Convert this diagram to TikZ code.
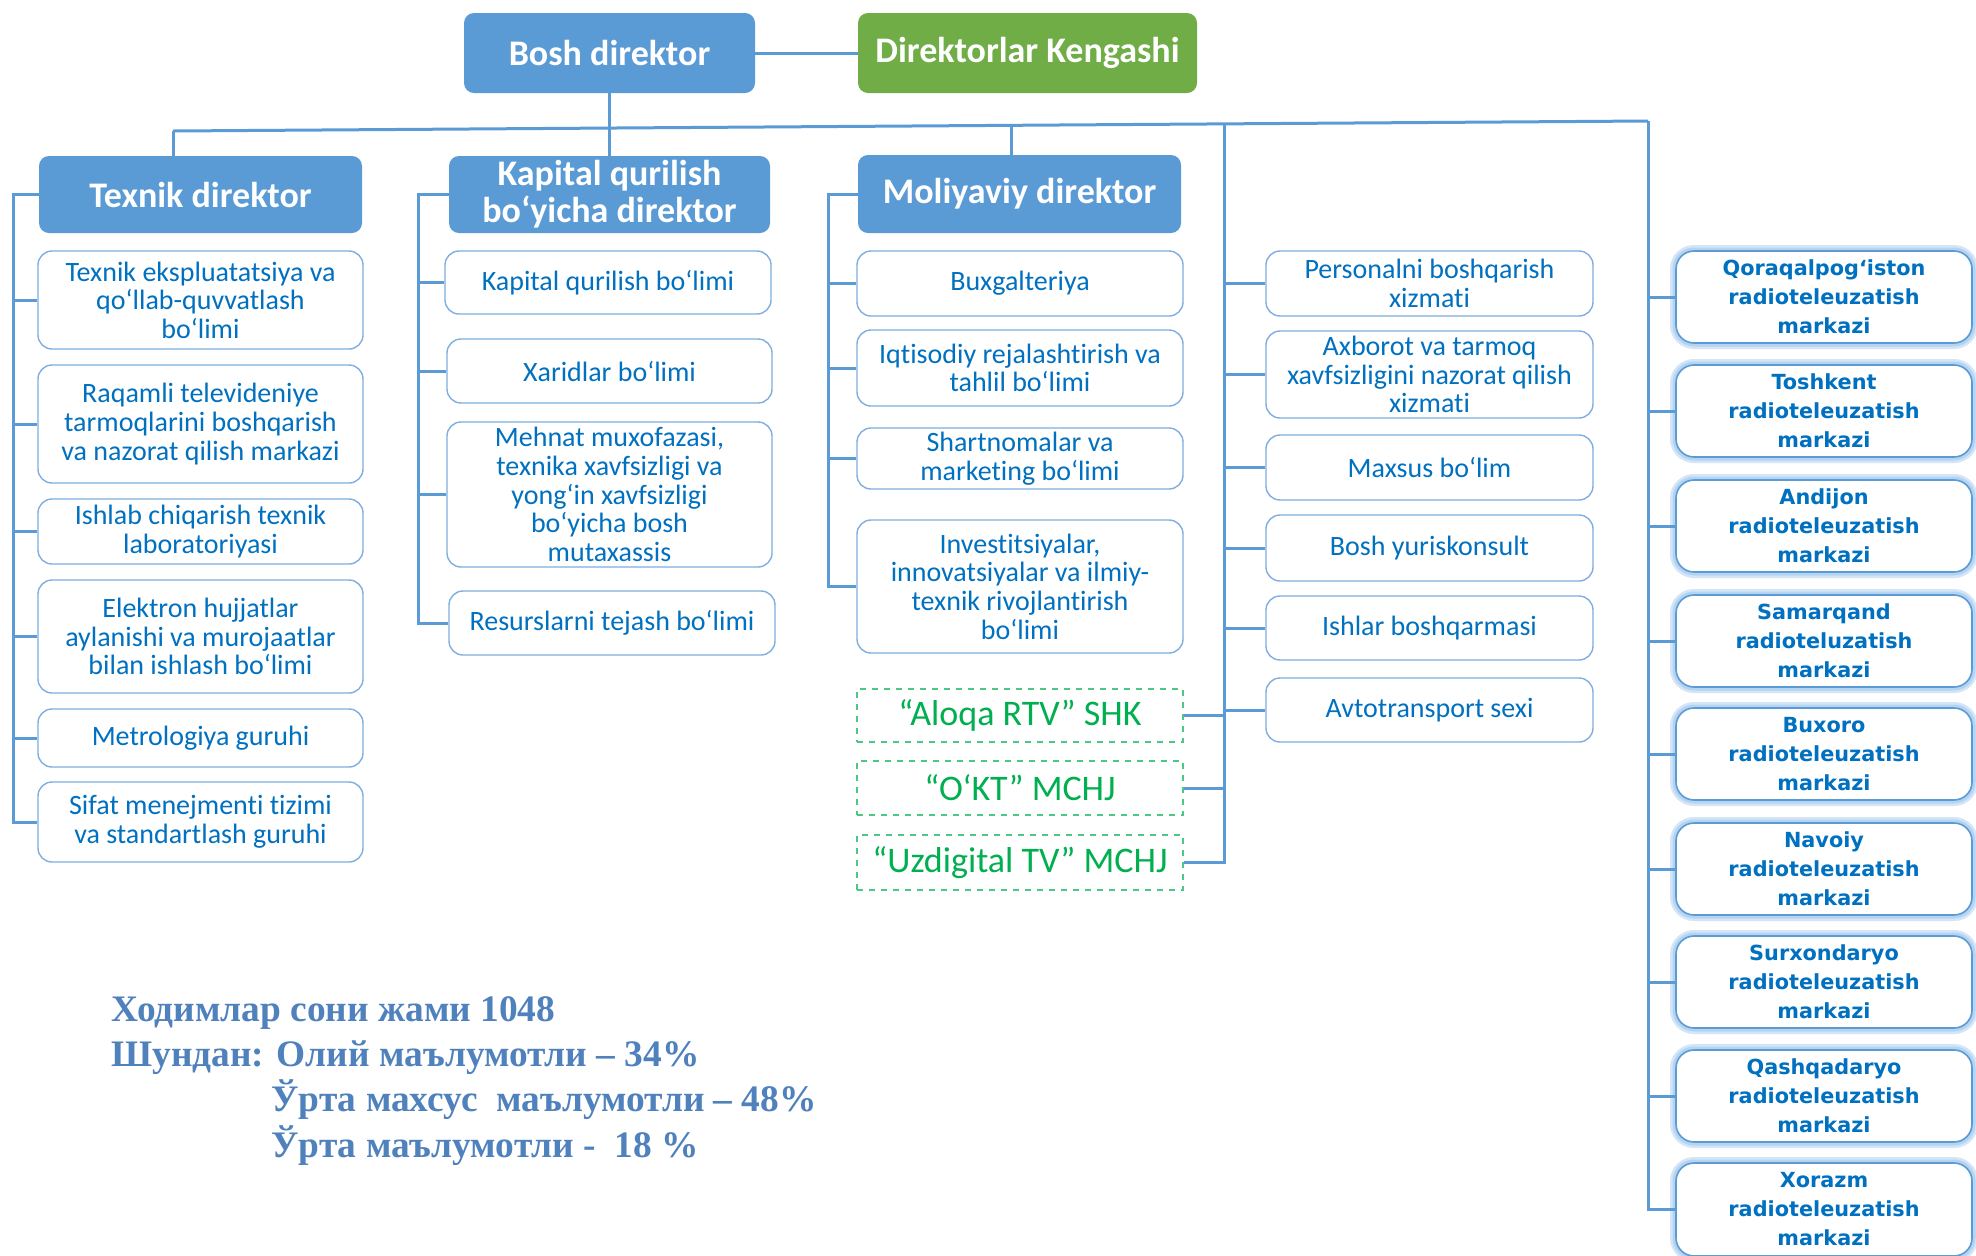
\documentclass[tikz,border=0pt]{standalone}
\usepackage{fontspec}
\setmainfont{Carlito}[Ligatures={NoCommon,NoContextual}]
\newfontfamily\vfont{DejaVu Sans}
\newfontfamily\tfont{Liberation Serif}
\usetikzlibrary{calc}
\definecolor{dirblue}{HTML}{5B9BD5}
\definecolor{dirgreen}{HTML}{70AD47}
\definecolor{txtblue}{HTML}{0070C0}
\definecolor{linecol}{HTML}{5B9BD5}
\definecolor{boxline}{HTML}{7FAEE0}
\definecolor{subgreen}{HTML}{00B050}
\definecolor{cyrblue}{HTML}{4F81BD}
\definecolor{glowcol}{HTML}{A9CDF0}
\newcommand\bx[7]{\node[#1, minimum width={(#5-#3)*0.5pt}, minimum height={(#6-#4)*0.5pt}] (#2) at ({(#3+#5)/2},{(#4+#6)/2}) {#7};}
\begin{document}
\begin{tikzpicture}[x=0.5pt,y=-0.5pt,
  dirbox/.style={fill=dirblue, rounded corners=5pt, inner sep=0pt, text=white,
    font=\fontsize{18}{18.5}\selectfont\bfseries, align=center},
  kengbox/.style={dirbox, fill=dirgreen},
  unitbox/.style={draw=boxline, line width=0.7pt, rounded corners=7pt, inner sep=0pt,
    text=txtblue, font=\fontsize{14}{14.3}\selectfont, align=center},
  subbox/.style={draw=subgreen!70, dashed, line width=0.6pt, inner sep=0pt,
    text=subgreen, font=\fontsize{18}{18}\selectfont, align=center},
  regbox/.style={draw=dirblue, line width=0.8pt, rounded corners=9pt, inner sep=0pt,
    fill=white, text=txtblue, font=\vfont\bfseries\fontsize{10.4}{14.5}\selectfont, align=center,
    preaction={draw=glowcol, line width=6pt, opacity=0.5},
    preaction={draw=glowcol, line width=3.5pt, opacity=0.7}},
  conn/.style={draw=linecol, line width=1.5pt},
  cyr/.style={text=cyrblue, font=\tfont\bfseries\fontsize{18.7}{22.5}\selectfont, anchor=base west, inner sep=0pt}
]
\useasboundingbox (0,0) rectangle (1976,1255);
\fill[white] (0,0) rectangle (1976,1255);

% top level
\bx{dirbox}{bosh}{464}{13}{755}{93}{Bosh direktor}
\bx{kengbox}{keng}{858}{13}{1197}{93}{Direktorlar Kengashi}
\draw[conn] (bosh.east) -- (keng.west);

% directors
\bx{dirbox}{texnik}{39}{156}{362}{233}{Texnik direktor}
\bx{dirbox}{kapital}{449}{156}{770}{233}{Kapital qurilish\\bo‘yicha direktor}
\bx{dirbox}{moliya}{858}{155}{1181}{233}{Moliyaviy direktor}

% bus
\coordinate (busL) at (173,131);
\coordinate (busR) at (1648,121);
\draw[conn] (busL) -- (busR);
\coordinate (busM) at ($(busL)!{(1012-173)/1475}!(busR)$);
\coordinate (busC) at ($(busL)!{(1224-173)/1475}!(busR)$);
\draw[conn] (bosh.south) -- (kapital.north);
\draw[conn] (busL) -- (busL |- texnik.north);
\draw[conn] (busM) -- (busM |- moliya.north);

% Texnik children
\bx{unitbox}{t1}{38}{251}{363}{349}{Texnik ekspluatatsiya va\\qo‘llab-quvvatlash\\bo‘limi}
\bx{unitbox}{t2}{38}{365}{363}{483}{Raqamli televideniye\\tarmoqlarini boshqarish\\va nazorat qilish markazi}
\bx{unitbox}{t3}{38}{499}{363}{564}{Ishlab chiqarish texnik\\laboratoriyasi}
\bx{unitbox}{t4}{38}{580}{363}{693}{Elektron hujjatlar\\aylanishi va murojaatlar\\bilan ishlash bo‘limi}
\bx{unitbox}{t5}{38}{709}{363}{767}{Metrologiya guruhi}
\bx{unitbox}{t6}{38}{782}{363}{862}{Sifat menejmenti tizimi\\va standartlash guruhi}
\coordinate (tl) at (13,194);
\draw[conn] (texnik.west) -- (texnik.west -| tl) -- (tl |- t6.west) -- (t6.west);
\foreach \n in {t1,t2,t3,t4,t5} \draw[conn] (tl |- \n.west) -- (\n.west);

% Kapital children
\bx{unitbox}{k1}{445}{251}{771}{314}{Kapital qurilish bo‘limi}
\bx{unitbox}{k2}{447}{339}{772}{403}{Xaridlar bo‘limi}
\bx{unitbox}{k3}{447}{422}{772}{567}{Mehnat muxofazasi,\\texnika xavfsizligi va\\yong‘in xavfsizligi\\bo‘yicha bosh\\mutaxassis}
\bx{unitbox}{k4}{449}{591}{775}{655}{Resurslarni tejash bo‘limi}
\coordinate (kl) at (418,194);
\draw[conn] (kapital.west) -- (kapital.west -| kl) -- (kl |- k4.west) -- (k4.west);
\foreach \n in {k1,k2,k3} \draw[conn] (kl |- \n.west) -- (\n.west);

% Moliyaviy children
\bx{unitbox}{m1}{857}{251}{1183}{316}{Buxgalteriya}
\bx{unitbox}{m2}{857}{330}{1183}{406}{Iqtisodiy rejalashtirish va\\tahlil bo‘limi}
\bx{unitbox}{m3}{857}{428}{1183}{489}{Shartnomalar va\\marketing bo‘limi}
\bx{unitbox}{m4}{857}{520}{1183}{653}{Investitsiyalar,\\innovatsiyalar va ilmiy-\\texnik rivojlantirish\\bo‘limi}
\coordinate (ml) at (828,194);
\draw[conn] (moliya.west) -- (moliya.west -| ml) -- (ml |- m4.west) -- (m4.west);
\foreach \n in {m1,m2,m3} \draw[conn] (ml |- \n.west) -- (\n.west);

% subsidiaries
\bx{subbox}{s1}{857}{689}{1183}{742}{“Aloqa RTV” SHK}
\bx{subbox}{s2}{857}{761}{1183}{815}{“O‘KT” MCHJ}
\bx{subbox}{s3}{857}{835}{1183}{890}{“Uzdigital TV” MCHJ}

% right column
\bx{unitbox}{r1}{1266}{251}{1593}{316}{Personalni boshqarish\\xizmati}
\bx{unitbox}{r2}{1266}{331}{1593}{418}{Axborot va tarmoq\\xavfsizligini nazorat qilish\\xizmati}
\bx{unitbox}{r3}{1266}{435}{1593}{500}{Maxsus bo‘lim}
\bx{unitbox}{r4}{1266}{515}{1593}{581}{Bosh yuriskonsult}
\bx{unitbox}{r5}{1266}{596}{1593}{660}{Ishlar boshqarmasi}
\bx{unitbox}{r6}{1266}{678}{1593}{742}{Avtotransport sexi}
\draw[conn] (busC) -- (busC |- s3.east) -- (s3.east);
\foreach \n in {r1,r2,r3,r4,r5,r6} \draw[conn] (busC |- \n.west) -- (\n.west);
\foreach \n in {s1,s2} \draw[conn] (\n.east) -- (busC |- \n.east);

% regional centres
\bx{regbox}{g1}{1676}{251}{1972}{343}{Qoraqalpog‘iston\\radioteleuzatish\\markazi}
\bx{regbox}{g2}{1676}{365}{1972}{457}{Toshkent\\radioteleuzatish\\markazi}
\bx{regbox}{g3}{1676}{480}{1972}{572}{Andijon\\radioteleuzatish\\markazi}
\bx{regbox}{g4}{1676}{595}{1972}{687}{Samarqand\\radioteluzatish\\markazi}
\bx{regbox}{g5}{1676}{708}{1972}{800}{Buxoro\\radioteleuzatish\\markazi}
\bx{regbox}{g6}{1676}{823}{1972}{915}{Navoiy\\radioteleuzatish\\markazi}
\bx{regbox}{g7}{1676}{936}{1972}{1028}{Surxondaryo\\radioteleuzatish\\markazi}
\bx{regbox}{g8}{1676}{1050}{1972}{1142}{Qashqadaryo\\radioteleuzatish\\markazi}
\bx{regbox}{g9}{1676}{1163}{1972}{1256}{Xorazm\\radioteleuzatish\\markazi}
\draw[conn] (busR) -- (busR |- g9.west) -- (g9.west);
\foreach \n in {g1,g2,g3,g4,g5,g6,g7,g8} \draw[conn] (busR |- \n.west) -- (\n.west);

% statistics
\node[cyr] (c1) at (111,1021) {Ходимлар сони жами 1048};
\node[cyr] (c2) at (111,1066) {Шундан: Олий маълумотли – 34\%};
\node[cyr] (c3) at (271,1111) {Ўрта махсус\ \ маълумотли – 48\%};
\node[cyr] (c4) at (271,1157) {Ўрта маълумотли -\ \ 18 \%};
\end{tikzpicture}
\end{document}
